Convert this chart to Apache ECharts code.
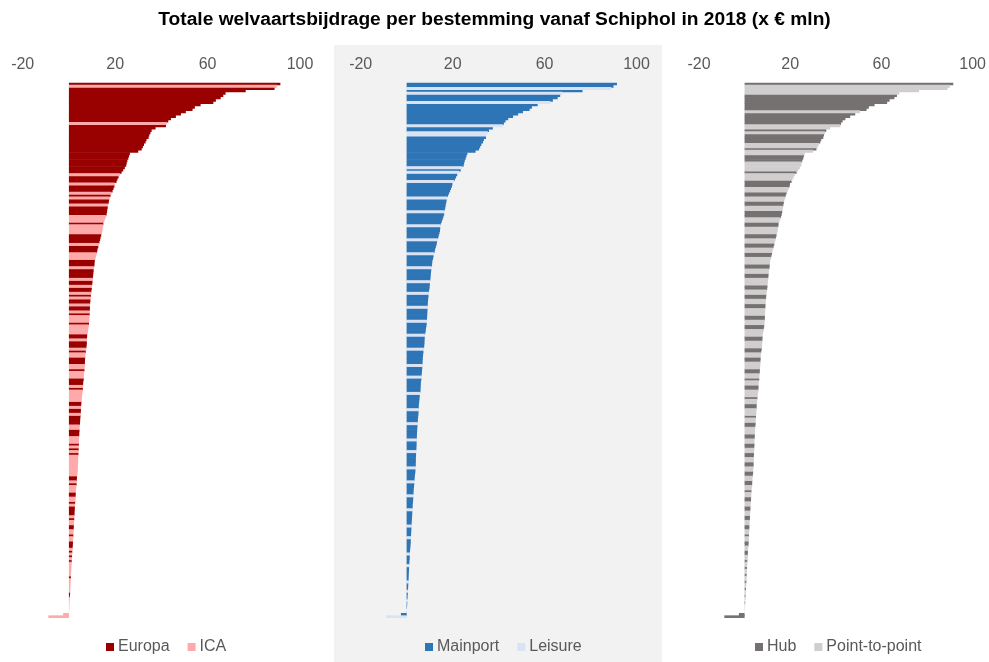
<!DOCTYPE html>
<html>
<head>
<meta charset="utf-8">
<script src="https://cdn.jsdelivr.net/npm/echarts@6/dist/echarts.min.js"></script>
<style>
  html, body { margin: 0; padding: 0; background: #fff; }
  #chart { width: 989px; height: 662px; }
</style>
</head>
<body>
<div id="chart"></div>
<script>
// welvaartsbijdrage per bestemming (x € mln), gesorteerd van hoog naar laag
const values = [
  91.5, 90, 89, 76.5, 67.8, 66.8, 65.7, 63.6, 62.5, 57,
  54.5, 53.5, 50.6, 48.5, 46.3, 44.2, 43, 42.3, 42, 37.5,
  35.8, 35.3, 34.8, 34.5, 33.6, 33.2, 32.5, 32, 31.5, 30,
  26.4, 26, 25.7, 25.3, 25, 24.8, 24.2, 23.5, 22.8, 22,
  21.5, 21, 20.6, 19.9, 19.7, 19.3, 18.9, 18.4, 18, 17.8,
  17.4, 17.2, 17, 16.8, 16.6, 16.5, 16.3, 16, 15.7, 15.3,
  14.9, 14.8, 14.6, 14.5, 14.3, 14, 13.7, 13.5, 13.2, 13,
  12.7, 12.4, 12.2, 12, 11.7, 11.5, 11.2, 11.1, 11, 10.9,
  10.7, 10.6, 10.5, 10.4, 10.3, 10.2, 10.1, 10, 9.9, 9.7,
  9.6, 9.5, 9.4, 9.3, 9.2, 9.15, 9.1, 9.05, 9, 8.95,
  8.9, 8.85, 8.8, 8.7, 8.6, 8.4, 8.3, 8.1, 7.9, 7.85,
  7.8, 7.75, 7.7, 7.6, 7.5, 7.3, 7.2, 7.1, 7, 6.95,
  6.9, 6.85, 6.8, 6.7, 6.6, 6.5, 6.45, 6.4, 6.2, 6.15,
  6.1, 6.05, 6, 5.8, 5.7, 5.6, 5.5, 5.4, 5.3, 5.25,
  5.2, 5.15, 5.1, 5, 4.9, 4.85, 4.8, 4.7, 4.6, 4.55,
  4.5, 4.45, 4.4, 4.35, 4.3, 4.3, 4.25, 4.2, 4.15, 4.1,
  4.05, 4, 4, 3.95, 3.9, 3.85, 3.8, 3.75, 3.6, 3.5,
  3.4, 3.35, 3.3, 3.2, 3.1, 3, 2.95, 2.9, 2.85, 2.8,
  2.7, 2.6, 2.55, 2.5, 2.45, 2.4, 2.35, 2.3, 2.2, 2.15,
  2.1, 2.05, 2, 1.95, 1.9, 1.85, 1.8, 1.75, 1.7, 1.6,
  1.5, 1.45, 1.4, 1.35, 1.3, 1.2, 1.15, 1.1, 1.05, 1,
  0.95, 0.9, 0.85, 0.8, 0.75, 0.7, 0.65, 0.6, 0.55, 0.5,
  0.4, 0.35, 0.3, 0.25, 0.2, 0.15, 0.1, 0.05, -2.5, -8.9
];

// indeling per bestemming, één teken per balk (zelfde volgorde als values)
// E = Europa, I = ICA
const regio =
  'EIEEEEEEEE' + 'EEEEEEEIEE' + 'EEEEEEEEEE' + 'EEEEEEEEEI' + 'EEEIEEEIEI' +
  'EEIEEEEIII' + 'EIIIIEEEEI' + 'EEEIIIEEEI' + 'EEEEIEEIEE' + 'IEIEEIEEIE' +
  'IIIEIIIIEE' + 'IEEEIEIIEE' + 'EIIEIIIEEE' + 'IEIIIIIEEI' + 'EEIEEEEIIE' +
  'EEIIIEIEIE' + 'IIIIIIIIIE' + 'EIEIIIEEII' + 'EIEEEEIEII' + 'EEIIEIIEEE' +
  'IEIEIEIIII' + 'IIEIIIIIIE' + 'EIIIIIIIII';
// M = Mainport, L = Leisure
const motief =
  'MMLMLMMMLM' + 'MMMMMMMMLM' + 'MLLMMMMMMM' + 'MMMMMMLMLM' + 'MMLMMMMMML' +
  'MMMMMLMMMM' + 'MLMMMMMLMM' + 'MMMLMMMMML' + 'MMMMMLMMMM' + 'LMMMMMLMMM' +
  'MMLMMMMMLM' + 'MMMMLMMMMM' + 'MLMMMMLMMM' + 'MMMLMMMMMM' + 'LMMMMMLMMM' +
  'MMMLMMMMLM' + 'MMMMMLMMMM' + 'MLMMMMMLMM' + 'MMMLMMMMMM' + 'LMMMMLMMMM' +
  'MMLMMMMLMM' + 'MMMMLMMMLM' + 'MMLMMMLMML';
// H = Hub, P = Point-to-point
const netwerk =
  'HPPPPHHHHH' + 'HHPHHHHHPP' + 'HPHHHHPPHP' + 'PHHHPPPPHP' + 'PPHHHPPHHP' +
  'PHHPPHHHPP' + 'HHPPPHHPPH' + 'HPPHHPPPHH' + 'PPHHPPPHHP' + 'PHHPPHHPPP' +
  'HHPPHHPPPH' + 'HPPPHHPPHH' + 'PPPHHPPHPP' + 'HHPPPHPPHH' + 'PPPHPPHHPP' +
  'PHHPPHHPPH' + 'HPPHHPPHHP' + 'PHHPPHPPHH' + 'PPHHPPHHPP' + 'HHPPHPPHHP' +
  'PHHPPHPPHP' + 'PHPPHPPHPP' + 'HPPHPPPPHH';

const destinations = values.map((v, i) => 'bestemming ' + (i + 1));
const xTicks = { min: -20, max: 100, interval: 40 };

const panels = [
  { left: 22.7, width: 277.3, codes: regio, legendLeft: 101,
    items: [['E', 'Europa', '#990000'], ['I', 'ICA', '#FFAAAA']] },
  { left: 360.7, width: 275.8, codes: motief, legendLeft: 420,
    items: [['M', 'Mainport', '#2E75B6'], ['L', 'Leisure', '#DAE3F3']] },
  { left: 699, width: 277.5, codes: netwerk, legendLeft: 750,
    items: [['H', 'Hub', '#767171'], ['P', 'Point-to-point', '#D0CECE']] }
];

const labelColor = '#595959';
const grid = [], xAxis = [], yAxis = [], series = [], legend = [];

panels.forEach((p, k) => {
  grid.push({ left: p.left, width: p.width, top: 82.7, height: 535.3 });
  xAxis.push({
    type: 'value', gridIndex: k, position: 'top',
    min: xTicks.min, max: xTicks.max, interval: xTicks.interval,
    axisLine: { show: false }, axisTick: { show: false }, splitLine: { show: false },
    axisLabel: { color: labelColor, fontSize: 16, margin: 10, fontFamily: 'Liberation Sans, Arial' }
  });
  yAxis.push({
    type: 'category', gridIndex: k, inverse: true, data: destinations,
    axisLine: { show: false }, axisTick: { show: false }, axisLabel: { show: false }
  });
  const codes = p.codes.split('');
  p.items.forEach(([code, name, color]) => {
    series.push({
      name: name, type: 'bar', xAxisIndex: k, yAxisIndex: k,
      barGap: '-100%', barWidth: 3,
      itemStyle: { color: color },
      data: values.map((v, i) => codes[i] === code ? v : '-')
    });
  });
  legend.push({
    left: p.legendLeft, top: 634, itemWidth: 8, itemHeight: 8, itemGap: 18,
    icon: 'rect', data: p.items.map(it => it[1]),
    textStyle: { color: labelColor, fontSize: 16, padding: [0, 0, 0, -1], fontFamily: 'Liberation Sans, Arial' }
  });
});

const chart = echarts.init(document.getElementById('chart'));
chart.setOption({
  animation: false,
  title: {
    text: 'Totale welvaartsbijdrage per bestemming vanaf Schiphol in 2018 (x € mln)',
    left: 'center', top: 5,
    textStyle: { fontSize: 19.2, fontWeight: 'bold', color: '#000', fontFamily: 'Liberation Sans, Arial' }
  },
  graphic: [{
    type: 'rect', z: -10, silent: true,
    shape: { x: 334, y: 45, width: 328, height: 617 },
    style: { fill: '#F2F2F2' }
  }],
  legend: legend,
  grid: grid,
  xAxis: xAxis,
  yAxis: yAxis,
  series: series
});
</script>
</body>
</html>
